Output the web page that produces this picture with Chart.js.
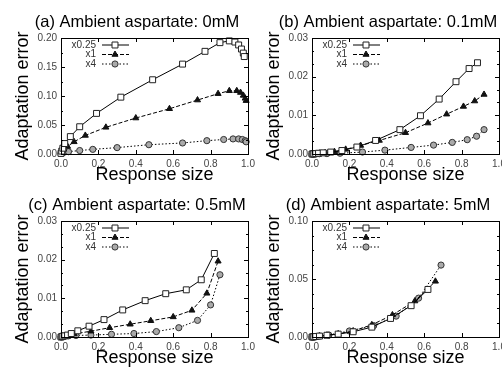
<!DOCTYPE html>
<html>
<head>
<meta charset="utf-8">
<script src="https://cdn.jsdelivr.net/npm/chart.js@4.4.1/dist/chart.umd.min.js"></script>
<style>
  html,body{margin:0;padding:0;background:#fff;overflow:hidden}
  #wrap{position:relative;width:502px;height:367px;overflow:hidden}
  canvas{position:absolute}
</style>
</head>
<body>
<div id="wrap">
  <canvas id="pa" width="262" height="184" style="left:0;top:0"></canvas>
  <canvas id="pb" width="262" height="184" style="left:251px;top:0"></canvas>
  <canvas id="pc" width="262" height="184" style="left:0;top:183px"></canvas>
  <canvas id="pd" width="262" height="184" style="left:251px;top:183px"></canvas>
</div>
<script>
// ---- data ----
const SERIES = ["x0.25", "x1", "x4"];
const X_TICKS = [0, 0.2, 0.4, 0.6, 0.8, 1.0];

// (a) 0mM
const A_TITLE = "(a) Ambient aspartate: 0mM";
const A_Q_X = [0, 0.004, 0.01, 0.02, 0.05, 0.1, 0.19, 0.32, 0.49, 0.65, 0.77, 0.85, 0.9, 0.93, 0.95, 0.965, 0.975, 0.98];
const A_Q_Y = [0.001, 0.005, 0.01, 0.018, 0.03, 0.047, 0.07, 0.098, 0.128, 0.155, 0.177, 0.192, 0.195, 0.193, 0.188, 0.181, 0.174, 0.168];
const A_1_X = [0, 0.005, 0.015, 0.035, 0.07, 0.13, 0.24, 0.4, 0.58, 0.73, 0.84, 0.9, 0.94, 0.96, 0.975, 0.985, 0.99];
const A_1_Y = [0.001, 0.004, 0.008, 0.013, 0.021, 0.032, 0.046, 0.062, 0.078, 0.093, 0.104, 0.109, 0.109, 0.106, 0.101, 0.096, 0.092];
const A_4_X = [0, 0.005, 0.015, 0.04, 0.1, 0.17, 0.3, 0.47, 0.65, 0.78, 0.87, 0.92, 0.95, 0.97, 0.985, 0.99];
const A_4_Y = [0.001, 0.002, 0.003, 0.004, 0.006, 0.008, 0.011, 0.016, 0.019, 0.023, 0.025, 0.026, 0.026, 0.025, 0.023, 0.021];

// (b) 0.1mM
const B_TITLE = "(b) Ambient aspartate: 0.1mM";
const B_Q_X = [0, 0.005, 0.01, 0.02, 0.035, 0.06, 0.1, 0.16, 0.24, 0.34, 0.47, 0.58, 0.68, 0.77, 0.84, 0.885];
const B_Q_Y = [0, 0.00002, 0.00005, 0.0001, 0.0002, 0.0003, 0.0005, 0.0009, 0.0018, 0.0035, 0.0063, 0.0099, 0.0142, 0.0187, 0.0221, 0.0236];
const B_1_X = [0, 0.005, 0.01, 0.02, 0.04, 0.07, 0.12, 0.18, 0.26, 0.36, 0.5, 0.62, 0.72, 0.81, 0.87, 0.92];
const B_1_Y = [0, 0.00002, 0.00005, 0.0001, 0.0002, 0.0003, 0.0006, 0.0012, 0.0022, 0.0035, 0.0055, 0.008, 0.0103, 0.0123, 0.0137, 0.0154];
const B_4_X = [0, 0.005, 0.01, 0.02, 0.04, 0.08, 0.15, 0.27, 0.39, 0.53, 0.65, 0.75, 0.83, 0.88, 0.92];
const B_4_Y = [0, 0.00001, 0.00002, 0.00004, 0.00008, 0.0001, 0.0002, 0.0005, 0.001, 0.0017, 0.0023, 0.003, 0.0037, 0.0046, 0.0063];

// (c) 0.5mM
const C_TITLE = "(c) Ambient aspartate: 0.5mM";
const C_Q_X = [0, 0.005, 0.01, 0.02, 0.035, 0.055, 0.09, 0.15, 0.23, 0.33, 0.45, 0.56, 0.67, 0.75, 0.82];
const C_Q_Y = [0, 0.0001, 0.0002, 0.0003, 0.0005, 0.0009, 0.0016, 0.0028, 0.0045, 0.007, 0.0094, 0.0112, 0.0122, 0.0148, 0.0216];
const C_1_X = [0, 0.005, 0.01, 0.02, 0.04, 0.07, 0.16, 0.26, 0.37, 0.48, 0.6, 0.7, 0.78, 0.84];
const C_1_Y = [0, 0.0001, 0.0002, 0.0003, 0.0005, 0.0008, 0.0015, 0.0024, 0.0033, 0.0042, 0.0052, 0.0069, 0.0113, 0.0196];
const C_4_X = [0, 0.005, 0.01, 0.02, 0.04, 0.08, 0.16, 0.27, 0.39, 0.51, 0.63, 0.73, 0.8, 0.85];
const C_4_Y = [0, 0.00005, 0.0001, 0.0002, 0.0003, 0.0004, 0.0005, 0.0007, 0.0009, 0.0014, 0.0024, 0.0043, 0.0083, 0.0161];

// (d) 5mM
const D_TITLE = "(d) Ambient aspartate: 5mM";
const D_Q_X = [0, 0.005, 0.01, 0.02, 0.04, 0.08, 0.14, 0.22, 0.32, 0.42, 0.53, 0.62];
const D_Q_Y = [0, 0.0001, 0.0002, 0.0004, 0.0008, 0.0015, 0.0025, 0.0045, 0.0085, 0.016, 0.027, 0.041];
const D_1_X = [0, 0.005, 0.01, 0.02, 0.04, 0.08, 0.14, 0.22, 0.32, 0.43, 0.55, 0.66];
const D_1_Y = [0, 0.0001, 0.0002, 0.0004, 0.0008, 0.0016, 0.0027, 0.0052, 0.0105, 0.019, 0.031, 0.048];
const D_4_X = [0, 0.005, 0.01, 0.02, 0.04, 0.09, 0.2, 0.33, 0.45, 0.57, 0.69];
const D_4_Y = [0, 0.0001, 0.0002, 0.0004, 0.0008, 0.0017, 0.0052, 0.0098, 0.018, 0.0335, 0.062];

const A_Y_TICKS = [0, 0.05, 0.10, 0.15, 0.20];
const B_Y_TICKS = [0, 0.01, 0.02, 0.03];
const C_Y_TICKS = [0, 0.01, 0.02, 0.03];
const D_Y_TICKS = [0, 0.05, 0.10];

// ---- helpers ----
const FONT = "'Liberation Sans', Arial, sans-serif";
const zip = (xs, ys) => xs.map((x, i) => ({x, y: ys[i]}));

const STYLES = [
  {borderDash: [], pointStyle: "rect", pointRadius: 4.2, pointBackgroundColor: "#fff", pointBorderColor: "#222"},
  {borderDash: [4, 2], pointStyle: "triangle", pointRadius: 3.5, pointBackgroundColor: "#111", pointBorderColor: "#111"},
  {borderDash: [1.5, 2], pointStyle: "circle", pointRadius: 3.1, pointBackgroundColor: "#aaa", pointBorderColor: "#333"}
];

// frame with inward ticks on all four sides (gnuplot look)
const frame = {
  id: "frame",
  afterDatasetsDraw(chart, args, opt){
    const {ctx, chartArea: a, scales: {x, y}} = chart;
    ctx.save();
    ctx.strokeStyle = "#000";
    ctx.lineWidth = 1;
    ctx.beginPath();
    for(const v of X_TICKS){
      const px = Math.round(x.getPixelForValue(v)) + 0.5;
      ctx.moveTo(px, a.bottom); ctx.lineTo(px, a.bottom - 4);
      ctx.moveTo(px, a.top); ctx.lineTo(px, a.top + 4);
    }
    const n = Math.round(y.max / opt.minor);
    for(let i = 0; i <= n; i++){
      const v = i * opt.minor;
      const py = Math.round(y.getPixelForValue(v)) + 0.5;
      const major = opt.majors.some(m => Math.abs(m - v) < 1e-9);
      const len = major ? 4 : 2;
      ctx.moveTo(a.left, py); ctx.lineTo(a.left + len, py);
      ctx.moveTo(a.right, py); ctx.lineTo(a.right - len, py);
    }
    ctx.stroke();
    ctx.strokeRect(Math.round(a.left) + 0.5, Math.round(a.top) + 0.5,
                   Math.round(a.right - a.left), Math.round(a.bottom - a.top));
    ctx.restore();
  }
};

// panel title above the plot box
const panelTitle = {
  id: "panelTitle",
  afterDraw(chart, args, opt){
    const {ctx, chartArea: a} = chart;
    ctx.save();
    ctx.fillStyle = "#000";
    ctx.font = "16.5px " + FONT;
    ctx.textAlign = "center";
    ctx.textBaseline = "alphabetic";
    ctx.fillText(opt.text, a.left + 76, a.top - 11);
    ctx.restore();
  }
};

// gnuplot style key: right-aligned label, then line sample with marker
const key = {
  id: "key",
  afterDraw(chart){
    const {ctx, chartArea: a} = chart;
    ctx.save();
    chart.data.datasets.forEach((ds, i) => {
      const yy = a.top + 7 + i * 9.5;
      ctx.fillStyle = "#333";
      ctx.font = "10px " + FONT;
      ctx.textAlign = "right";
      ctx.textBaseline = "middle";
      ctx.fillText(ds.label, a.left + 35, yy);
      ctx.strokeStyle = "#000";
      ctx.lineWidth = 1;
      ctx.setLineDash(ds.borderDash);
      ctx.beginPath();
      ctx.moveTo(a.left + 41, yy); ctx.lineTo(a.left + 68, yy);
      ctx.stroke();
      ctx.setLineDash([]);
      ctx.fillStyle = ds.pointBackgroundColor;
      ctx.strokeStyle = ds.pointBorderColor;
      Chart.helpers.drawPoint(ctx, {pointStyle: ds.pointStyle, radius: ds.pointRadius, rotation: 0, borderWidth: 1}, a.left + 54, yy);
    });
    ctx.restore();
  }
};

function makePanel(id, title, series, yTicks, yMinor){
  const yMax = yTicks[yTicks.length - 1];
  const datasets = series.map((pts, i) => Object.assign({
    label: SERIES[i],
    data: pts,
    borderColor: "#000",
    borderWidth: 1,
    pointBorderWidth: 1,
    tension: 0,
    fill: false,
    clip: false
  }, STYLES[i]));

  new Chart(document.getElementById(id), {
    type: "line",
    data: {datasets},
    options: {
      responsive: false,
      animation: false,
      devicePixelRatio: 1,
      layout: {padding: {top: 38, right: 14, left: 0, bottom: 0}},
      plugins: {
        legend: {display: false},
        tooltip: {enabled: false},
        panelTitle: {text: title},
        frame: {minor: yMinor, majors: yTicks}
      },
      scales: {
        x: {
          type: "linear", min: 0, max: 1,
          grid: {display: false, drawTicks: false},
          border: {display: false},
          afterBuildTicks: s => { s.ticks = X_TICKS.map(v => ({value: v})); },
          ticks: {padding: 4, color: "#444", font: {family: FONT, size: 10},
                  callback: v => v.toFixed(1), maxRotation: 0},
          title: {display: true, text: "Response size", color: "#000",
                  font: {family: FONT, size: 18, lineHeight: 1}, padding: {top: 0, bottom: 0}},
          afterFit: s => { s.height = 30; s.paddingLeft = 0; s.paddingRight = 0; }
        },
        y: {
          type: "linear", min: 0, max: yMax,
          grid: {display: false, drawTicks: false},
          border: {display: false},
          afterBuildTicks: s => { s.ticks = yTicks.map(v => ({value: v})); },
          ticks: {padding: 4, color: "#444", font: {family: FONT, size: 10},
                  callback: v => v.toFixed(2)},
          title: {display: true, text: "Adaptation error", color: "#000",
                  font: {family: FONT, size: 18, lineHeight: 1}, padding: {top: 14, bottom: 0}},
          afterFit: s => { s.width = 61; s.paddingTop = 0; s.paddingBottom = 0; }
        }
      }
    },
    plugins: [frame, panelTitle, key]
  });
}

makePanel("pa", A_TITLE, [zip(A_Q_X, A_Q_Y), zip(A_1_X, A_1_Y), zip(A_4_X, A_4_Y)], A_Y_TICKS, 0.025);
makePanel("pb", B_TITLE, [zip(B_Q_X, B_Q_Y), zip(B_1_X, B_1_Y), zip(B_4_X, B_4_Y)], B_Y_TICKS, 0.01 / 3);
makePanel("pc", C_TITLE, [zip(C_Q_X, C_Q_Y), zip(C_1_X, C_1_Y), zip(C_4_X, C_4_Y)], C_Y_TICKS, 0.01 / 3);
makePanel("pd", D_TITLE, [zip(D_Q_X, D_Q_Y), zip(D_1_X, D_1_Y), zip(D_4_X, D_4_Y)], D_Y_TICKS, 0.0125);
</script>
</body>
</html>
